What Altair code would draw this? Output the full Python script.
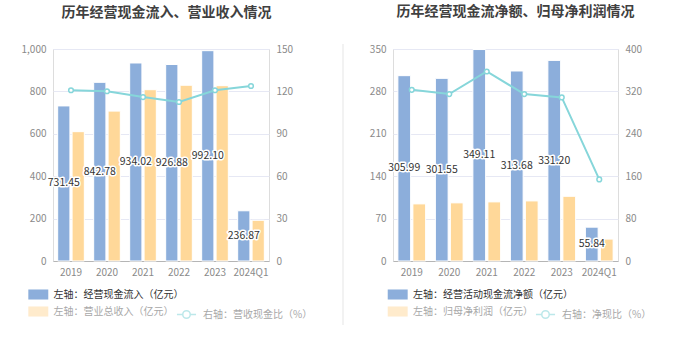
import altair as alt
import pandas as pd

years = ["2019", "2020", "2021", "2022", "2023", "2024Q1"]

# Left panel
inflow = [731.45, 842.78, 934.02, 926.88, 992.10, 236.87]
revenue = [610, 707, 808, 829, 827, 192]
cash_rev_ratio = [120.8, 120.1, 116.0, 112.5, 120.8, 123.8]

# Right panel
net_cf = [305.99, 301.55, 349.11, 313.68, 331.20, 55.84]
net_profit = [94.3, 96.0, 97.6, 99.2, 106.8, 36.2]
net_cash_ratio = [323.0, 315.0, 357.6, 315.0, 308.7, 154.0]

BLUE = "#8caedb"
ORANGE = "#ffd899"
TEAL = "#86d6da"
GRID = "#e6e8f4"
FONT = "Noto Sans CJK SC"

RECT = "M-1.33,-0.67H1.33V0.67H-1.33Z"
LINESYM = "M-1.27,0H-0.5M0.5,0H1.27M-0.5,0A0.5,0.5,0,1,1,0.5,0A0.5,0.5,0,1,1,-0.5,0"


def panel(title, s1, s2, lname, v1, v2, ratio, ymax, ystep, rmax, rstep,
          width, title_dx, bar_legend_x, line_legend_x, separator=False):
    rows = []
    for y, a, b in zip(years, v1, v2):
        rows.append({"year": y, "series": s1, "value": a, "mid": a / 2, "label": f"{a:.2f}"})
        rows.append({"year": y, "series": s2, "value": b, "mid": b / 2, "label": ""})
    bdf = pd.DataFrame(rows)
    ldf = pd.DataFrame({"year": years, "ratio": ratio, "name": [lname] * len(years)})

    xaxis = alt.Axis(title=None, labelAngle=0, labelFontSize=10, labelColor="#8a8a8a",
                     labelFont=FONT, ticks=False, domainColor="#b5b5b5",
                     labelPadding=6, grid=False)
    xscale = alt.Scale(paddingInner=0.26, paddingOuter=0.13)
    xenc = alt.X("year:N", sort=years, scale=xscale, axis=xaxis)
    xoff = alt.XOffset("series:N", sort=[s1, s2],
                       scale=alt.Scale(domain=[s1, s2], paddingInner=0.15, paddingOuter=0))
    yscale = alt.Scale(domain=[0, ymax], nice=False)
    yaxis = alt.Axis(title=None, values=list(range(0, ymax + 1, ystep)), format=",d",
                     labelFontSize=10, labelColor="#8a8a8a", labelFont=FONT,
                     ticks=False, domain=False, gridColor=GRID, labelPadding=7,
                     minExtent=30, maxExtent=30)

    bars = alt.Chart(bdf).mark_bar(stroke="white", strokeWidth=1).encode(
        x=xenc,
        xOffset=xoff,
        y=alt.Y("value:Q", scale=yscale, axis=yaxis),
        color=alt.Color("series:N", sort=[s1, s2],
                        scale=alt.Scale(domain=[s1, s2], range=[BLUE, ORANGE]),
                        legend=alt.Legend(title=None, orient="none", legendX=bar_legend_x, legendY=238,
                                          direction="vertical", symbolType=RECT, symbolSize=225,
                                          symbolStrokeWidth=0, labelFontSize=10, labelFont=FONT,
                                          labelOffset=7.8, rowPadding=4,
                                          labelColor=alt.ExprRef(f"datum.value === '{s1}' ? '#333333' : '#a8a8a8'"),
                                          symbolOpacity=alt.ExprRef(f"datum.value === '{s1}' ? 1 : 0.5"))),
    )
    tdf = bdf[bdf["series"] == s1]
    halo = alt.Chart(tdf).mark_text(fontSize=10.5, font=FONT, stroke="white", strokeWidth=3,
                                    strokeJoin="round", color="white").encode(
        x=xenc, xOffset=xoff,
        y=alt.Y("mid:Q", scale=yscale, axis=yaxis), text="label:N")
    text = alt.Chart(tdf).mark_text(fontSize=10.5, font=FONT, color="#333333").encode(
        x=xenc, xOffset=xoff,
        y=alt.Y("mid:Q", scale=yscale, axis=yaxis), text="label:N")
    left = alt.layer(bars, halo, text)

    rscale = alt.Scale(domain=[0, rmax], nice=False)
    raxis = alt.Axis(title=None, orient="right", values=list(range(0, rmax + 1, rstep)),
                     labelFontSize=10, labelColor="#8a8a8a", labelFont=FONT,
                     ticks=False, domain=False, grid=False, labelPadding=7,
                     minExtent=30, maxExtent=30)
    line = alt.Chart(ldf).mark_line(strokeWidth=2).encode(
        x=xenc,
        y=alt.Y("ratio:Q", scale=rscale, axis=raxis),
        stroke=alt.Stroke("name:N", scale=alt.Scale(domain=[lname], range=[TEAL]),
                          legend=alt.Legend(title=None, orient="none", legendX=line_legend_x,
                                            legendY=257, symbolType=LINESYM, symbolSize=225,
                                            symbolStrokeWidth=1.5, symbolFillColor="white",
                                            symbolOpacity=0.55,
                                            labelFontSize=10, labelFont=FONT, labelColor="#a8a8a8",
                                            labelOffset=8)),
    )
    pts = alt.Chart(ldf).mark_point(filled=True, fill="white", stroke=TEAL, strokeWidth=1.5,
                                    size=22, opacity=1).encode(
        x=xenc,
        y=alt.Y("ratio:Q", scale=rscale, axis=raxis),
    )
    right_layers = [line, pts]
    if separator:
        sep = alt.Chart(ldf).mark_rule(color="#f2f2f2", strokeWidth=2).encode(
            x=alt.value(-50), y=alt.value(-5), y2=alt.value(276))
        right_layers.append(sep)
    right = alt.layer(*right_layers)

    return alt.layer(left, right).resolve_scale(y="independent").properties(
        width=width, height=212,
        title=alt.Title(title, fontSize=14, font=FONT, fontWeight="bold", color="#404040",
                        anchor="middle", dx=title_dx, offset=24),
    )


p1 = panel("历年经营现金流入、营业收入情况", "左轴：经营现金流入（亿元）", "左轴：营业总收入（亿元）",
           "右轴：营收现金比（%）", inflow, revenue, cash_rev_ratio, 1000, 200, 150, 30,
           216, 5.5, -22.2, 125)
p2 = panel("历年经营现金流净额、归母净利润情况", "左轴：经营活动现金流净额（亿元）", "左轴：归母净利润（亿元）",
           "右轴：净现比（%）", net_cf, net_profit, net_cash_ratio, 350, 70, 400, 80,
           225, 10, -2.8, 144, separator=True)

chart = alt.hconcat(p1, p2, spacing=124, bounds="flush").resolve_scale(
    color="independent", stroke="independent", x="independent", y="independent",
    xOffset="independent"
).properties(
    padding={"left": 20, "top": 4, "right": 0, "bottom": 0}
).configure_view(stroke=None).configure(background="white")

chart.save("out.html", embed_options={"renderer": "svg", "actions": False})
